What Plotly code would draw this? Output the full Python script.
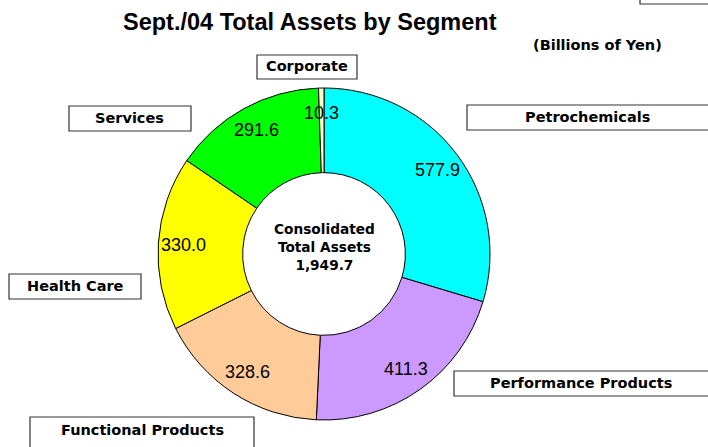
import math
import plotly.graph_objects as go

# ---- data ----
segments = ["Petrochemicals", "Performance Products", "Functional Products",
            "Health Care", "Services", "Corporate"]
values = [577.9, 411.3, 328.6, 330.0, 291.6, 10.3]
value_labels = ["577.9", "411.3", "328.6", "330.0", "291.6", "10.3"]
total_label = "1,949.7"
colors = ["#00FFFF", "#CC99FF", "#FFCC99", "#FFFF00", "#00FF00", "#FFFFCC"]

W, H = 708, 447
CX, CY, R = 324, 254, 166   # pie centre / radius in pixels
HOLE = 0.49

LABEL_FONT = "DejaVu Sans, Liberation Sans, Arial"
NUM_FONT = "Liberation Sans, Arial"

def px(x):
    return x / W

def py(y):
    return 1 - y / H

fig = go.Figure()
fig.add_trace(go.Pie(
    labels=segments, values=values, sort=False, direction="clockwise",
    rotation=0, hole=HOLE, textinfo="none", hoverinfo="label+value",
    marker=dict(colors=colors, line=dict(color="black", width=1)),
    domain=dict(x=[px(CX - R), px(CX + R)], y=[py(CY + R), py(CY - R)]),
    showlegend=False,
))

annotations = []

def ann(x, y, text, size, family, bold=False, yanchor="middle"):
    annotations.append(dict(x=px(x), y=py(y), xref="paper", yref="paper",
                            xanchor="center", yanchor=yanchor,
                            text=("<b>" + text + "</b>") if bold else text,
                            showarrow=False, align="center",
                            font=dict(family=family, size=size, color="black")))

# value labels placed at each slice's mid-angle
total = sum(values)
cum = 0.0
r_lab = 141
for v, lab in zip(values, value_labels):
    mid = (cum + v / 2) / total * 2 * math.pi
    cum += v
    ann(CX + r_lab * math.sin(mid), CY - r_lab * math.cos(mid), lab, 18, NUM_FONT)

# centre text
ann(CX, 247, "Consolidated<br>Total Assets<br>" + total_label, 13.7, LABEL_FONT, bold=True)

# title and unit
ann(310, 7, "Sept./04 Total Assets by Segment", 23.5, NUM_FONT, bold=True, yanchor="top")
ann(597, 45, "(Billions of Yen)", 14.5, LABEL_FONT, bold=True)

# label boxes: (x0, y0, x1, y1) in pixels, label, text centre
boxes = [
    (257, 55, 357, 79, segments[5], 307, 66),
    (69, 106, 191, 131, segments[4], 129, 118),
    (467, 105, None, 130, segments[0], 587, 117),
    (9, 274, 141, 299, segments[3], 75, 286),
    (454, 371, None, 396, segments[1], 581, 383),
    (30, 417, 254, None, segments[2], 142, 430),
]
BOX_LINE = dict(color="#333333", width=1.2)
shapes = []
for x0, y0, x1, y1, lab, tx, ty in boxes:
    if x1 is None:   # box runs off the right edge: left, top and bottom sides only
        path = "M {a},{b} L {c},{b} L {c},{d} L {a},{d}".format(
            a=px(760), b=py(y0), c=px(x0), d=py(y1))
        shapes.append(dict(type="path", xref="paper", yref="paper", path=path,
                           line=BOX_LINE, layer="below"))
    elif y1 is None:  # box runs off the bottom edge
        path = "M {a},{d} L {a},{b} L {c},{b} L {c},{d}".format(
            a=px(x0), b=py(y0), c=px(x1), d=py(480))
        shapes.append(dict(type="path", xref="paper", yref="paper", path=path,
                           line=BOX_LINE, layer="below"))
    else:
        shapes.append(dict(type="rect", xref="paper", yref="paper",
                           x0=px(x0), x1=px(x1), y0=py(y1), y1=py(y0),
                           line=BOX_LINE, fillcolor="white", layer="below"))
    ann(tx, ty, lab, 14.5, LABEL_FONT, bold=True)
# partial box at top-right corner (only its left and bottom sides show)
shapes.append(dict(type="path", xref="paper", yref="paper",
                   path="M {a},{b} L {a},{c} L {d},{c}".format(
                       a=px(640), b=py(-30), c=py(4), d=px(760)),
                   line=BOX_LINE, layer="below"))

fig.update_layout(
    width=W, height=H, margin=dict(l=0, r=0, t=0, b=0),
    paper_bgcolor="white", plot_bgcolor="white",
    annotations=annotations, shapes=shapes,
)

fig.write_html("out.html", config={"displayModeBar": False}, post_script=(
    "document.body.style.margin='0';"
    "document.documentElement.style.overflow='hidden';"
    "document.body.style.overflow='hidden';"))
